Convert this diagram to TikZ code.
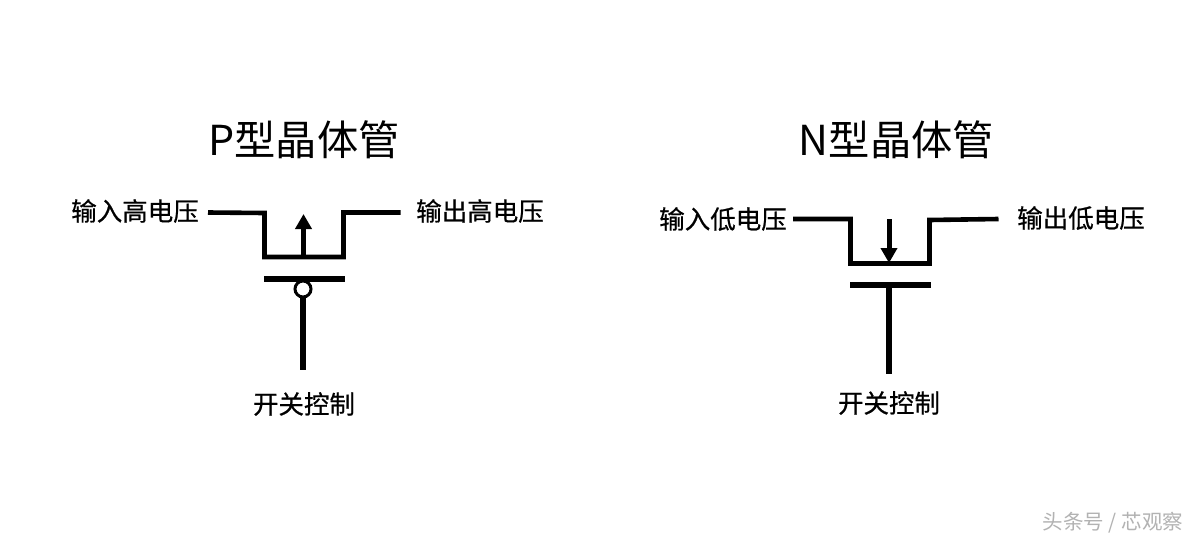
\documentclass[tikz,border=0pt]{standalone}
\usepackage{fontspec}
\setmainfont{Noto Sans CJK SC}
\newfontfamily\labfont{Noto Sans CJK SC}[FakeBold=0.6]
\usetikzlibrary{arrows.meta}
\definecolor{wm}{gray}{0.70}
\tikzset{
  x=1pt,y=-1pt,
  wire/.style={line width=4.6pt,line cap=butt,line join=miter,black},
  bar/.style={line width=5.2pt,line cap=butt,black},
  flow/.style={line width=5pt,black,-{Triangle[length=15pt,width=16pt,sep=0pt]}},
  heading/.style={inner sep=0pt,font=\fontsize{41.3}{42}\selectfont},
  lab/.style={inner sep=0pt,font=\labfont\fontsize{25.5}{26}\selectfont}
}
\begin{document}
\begin{tikzpicture}
\useasboundingbox (0,0) rectangle (1196,541);
\fill[white] (0,0) rectangle (1196,541);
% titles
\node[heading] (t1) at (304,140) {P型晶体管};
\node[heading] (t2) at (896.5,140) {N型晶体管};
% P transistor
\node[lab] (pin) at (135,211) {输入高电压};
\node[lab] (pout) at (480,211) {输出高电压};
\node[lab] (pc) at (304,404) {开关控制};
\coordinate (p1) at (208,212.5);
\coordinate (p2) at (264.5,213);
\coordinate (p3) at (264.5,257);
\coordinate (p4) at (343.5,257);
\coordinate (p5) at (343.5,212.5);
\coordinate (p6) at (400.5,212.5);
\draw[wire] (p1) -- (p2) -- (p3) -- (p4) -- (p5) -- (p6);
\coordinate (pg1) at (264,279);
\coordinate (pg2) at (344.5,279);
\draw[bar] (pg1) -- (pg2);
\coordinate (pe) at (303,369.5);
\node[circle,draw=black,fill=white,line width=3pt,minimum size=16pt,inner sep=0pt] (pb) at (303,289) {};
\draw[bar,shorten <=-2pt] (pb) -- (pe);
\coordinate (pa1) at (303.5,257);
\coordinate (pa2) at (303.5,214);
\draw[flow] (pa1) -- (pa2);
% N transistor
\node[lab] (nin) at (723,219) {输入低电压};
\node[lab] (nout) at (1081,218) {输出低电压};
\node[lab] (nc) at (889,403) {开关控制};
\coordinate (n1) at (793,219);
\coordinate (n2) at (850.5,219);
\coordinate (n3) at (850.5,263.5);
\coordinate (n4) at (929.5,263.5);
\coordinate (n5) at (929.5,220);
\coordinate (n6) at (998.5,219);
\draw[wire] (n1) -- (n2) -- (n3) -- (n4) -- (n5) -- (n6);
\coordinate (ng1) at (850,285);
\coordinate (ng2) at (930.5,285);
\draw[bar] (ng1) -- (ng2);
\coordinate (ng3) at (889,285);
\coordinate (ne) at (889,373.5);
\draw[bar] (ng3) -- (ne);
\coordinate (na1) at (889,219);
\coordinate (na2) at (889,263);
\draw[flow] (na1) -- (na2);
% watermark
\node[inner sep=0pt,text=wm,font=\fontsize{20.5}{21}\selectfont] (wmk) at (1113,523) {头条号 / 芯观察};
\end{tikzpicture}
\end{document}
